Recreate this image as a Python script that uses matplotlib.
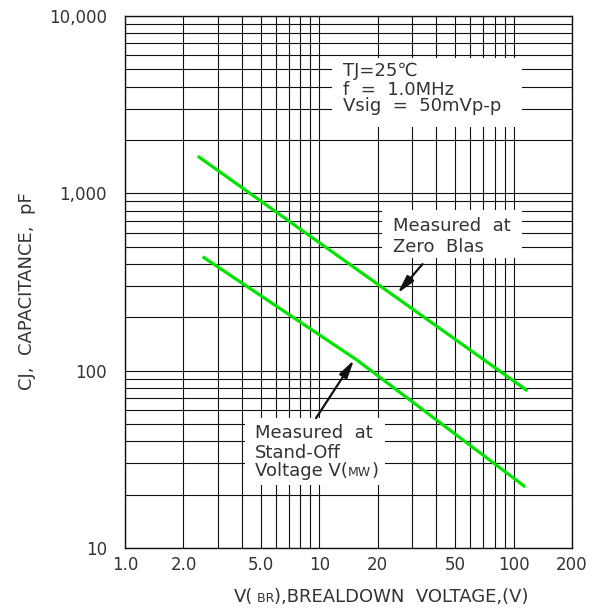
import numpy as np
import matplotlib
matplotlib.use('Agg')
import matplotlib.pyplot as plt
from matplotlib.patches import Rectangle
from matplotlib.offsetbox import TextArea, HPacker, AnchoredOffsetbox

# breakdown voltage (V) vs capacitance (pF)
v_zero = [2.37, 118]
c_zero = [1620, 77]
v_standoff = [2.51, 15.6, 115]
c_standoff = [439, 115, 22.1]

xticks = [1, 2, 5, 10, 20, 50, 100, 200]
xticklabels = ['1.0', '2.0', '5.0', '10', '20', '50', '100', '200']
yticks = [10, 100, 1000, 10000]
yticklabels = ['10', '100', '1,000', '10,000']

# arrow (tail, tip) positions in data coords
arrow_zero = [(34.0, 399), (25.3, 273)]
arrow_standoff = [(9.62, 54), (15.1, 115)]

FONT = 'DejaVu Sans'
TXT = '#333333'
GREEN = '#00e400'

plt.rcParams['font.family'] = FONT

fig = plt.figure(figsize=(6.08, 6.09), dpi=100)
ax = fig.add_axes([125/608, 61/609, 447/608, 532/609])
ax.set_xscale('log')
ax.set_yscale('log')
ax.set_xlim(1, 200)
ax.set_ylim(10, 10000)
ax.set_axisbelow(True)

ax.set_xticks(xticks)
ax.set_xticklabels(xticklabels)
ax.set_yticks(yticks)
ax.set_yticklabels(yticklabels)
ax.xaxis.set_minor_locator(matplotlib.ticker.LogLocator(base=10, subs=np.arange(2, 10)))
ax.yaxis.set_minor_locator(matplotlib.ticker.LogLocator(base=10, subs=np.arange(2, 10)))
ax.xaxis.set_minor_formatter(matplotlib.ticker.NullFormatter())
ax.yaxis.set_minor_formatter(matplotlib.ticker.NullFormatter())
ax.tick_params(which='both', length=0, labelsize=12, labelcolor=TXT)
ax.tick_params(axis='x', pad=6)
ax.tick_params(axis='y', pad=13)
ax.grid(which='both', color='#111111', lw=0.8)
for s in ax.spines.values():
    s.set_color('#111111')
    s.set_linewidth(1.0)

# white masks behind the notes
for (x0, y0, w, h) in [(0.463, 0.791, 0.425, 0.130),
                       (0.575, 0.545, 0.313, 0.090),
                       (0.268, 0.118, 0.314, 0.126)]:
    ax.add_patch(Rectangle((x0, y0), w, h, transform=ax.transAxes,
                           facecolor='white', edgecolor='none', zorder=2))

ax.plot(v_zero, c_zero, color=GREEN, lw=2.3, zorder=3, solid_capstyle='butt')
ax.plot(v_standoff, c_standoff, color=GREEN, lw=2.3, zorder=3, solid_capstyle='butt')

arrowstyle = '-|>,head_length=0.9,head_width=0.22'
for tail, tip in [arrow_zero, arrow_standoff]:
    ax.annotate('', xy=tip, xytext=tail,
                arrowprops=dict(arrowstyle=arrowstyle, color='#111111', lw=1.6,
                                mutation_scale=12, shrinkA=0, shrinkB=0),
                zorder=4)

tk = dict(transform=ax.transAxes, fontsize=13, color=TXT, va='baseline', ha='left', zorder=5)
ax.text(0.488, 0.887, 'TJ=25\u2103', **tk)
ax.text(0.488, 0.852, 'f  =  1.0MHz', **tk)
ax.text(0.488, 0.821, 'Vsig  =  50mVp-p', **tk)

ax.text(0.600, 0.595, 'Measured  at', **tk)
ax.text(0.600, 0.557, 'Zero  Blas', **tk)

ax.text(0.291, 0.206, 'Measured  at', **tk)
ax.text(0.291, 0.170, 'Stand-Off', **tk)


def packed(parts):
    boxes = [TextArea(s, textprops=dict(fontsize=fs, color=TXT, family=FONT))
             for s, fs in parts]
    return HPacker(children=boxes, align='baseline', pad=0, sep=0)


vmw = AnchoredOffsetbox(loc='lower left',
                        child=packed([('Voltage V(', 13), ('MW', 9), (')', 13)]),
                        frameon=False, pad=0, borderpad=0,
                        bbox_to_anchor=(0.291, 0.128), bbox_transform=ax.transAxes)
vmw.set_zorder(5)
ax.add_artist(vmw)

xl = AnchoredOffsetbox(loc='center',
                       child=packed([('V(', 13), (' BR', 9), ('),BREALDOWN  VOLTAGE,(V)', 13)]),
                       frameon=False, pad=0, borderpad=0,
                       bbox_to_anchor=(0.627, 0.02), bbox_transform=fig.transFigure)
fig.add_artist(xl)

fig.text(0.044, 0.522, 'CJ,  CAPACITANCE,  pF', rotation=90, ha='center', va='center',
         fontsize=13, color=TXT)

fig.savefig('out.png', dpi=100)
